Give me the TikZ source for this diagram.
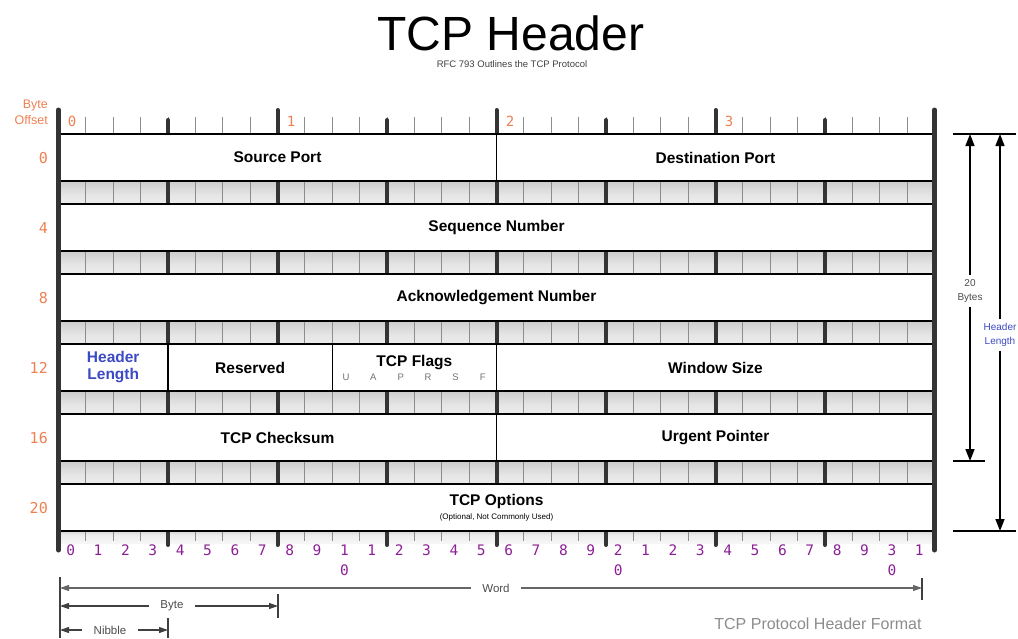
\documentclass[tikz,border=0pt]{standalone}
\usepackage{fontspec}
\setmainfont{Liberation Sans}
\newfontfamily\monofont{DejaVu Sans Mono}
\usetikzlibrary{arrows.meta}

\definecolor{offsetorange}{RGB}{238,128,82}
\definecolor{bitpurple}{RGB}{140,30,150}
\definecolor{lenblue}{RGB}{60,74,196}
\definecolor{barcol}{RGB}{52,52,52}

% gap band between two header rows: shadowed just below a row, light further down
% (a shading fills the path's box on the page: 100bp is the top edge)
\pgfdeclareverticalshading{bandshade}{100bp}{color(0bp)=(black!16); color(12bp)=(black!6); color(45bp)=(black!10); color(75bp)=(black!20); color(100bp)=(black!50)}
% faint shadow under the last row
\pgfdeclareverticalshading{shadowshade}{100bp}{color(0bp)=(white); color(60bp)=(black!8); color(100bp)=(black!30)}

\newcommand{\bitw}{27.375}
\newcommand{\flagbox}[1]{\makebox[27.375pt]{#1}}

\begin{document}
\begin{tikzpicture}[x=1pt,y=-1pt,
  field/.style={draw=black, line width=1.4pt, fill=white, inner sep=0pt, outer sep=0pt,
    minimum height=47pt, anchor=north west, align=center,
    font=\fontsize{15.5}{17}\selectfont\bfseries},
  rowframe/.style={draw=black, line width=2.6pt},
  bittick/.style={draw=black!45, line width=0.9pt},
  nibtick/.style={draw=barcol, line width=4pt},
  sidebar/.style={draw=barcol, line width=5pt, line cap=round},
  offsetlbl/.style={anchor=east, inner sep=0pt, text=offsetorange, font=\monofont\fontsize{15}{15}\selectfont},
  bytelbl/.style={inner sep=0pt, text=offsetorange, font=\monofont\fontsize{14}{14}\selectfont},
  bitlbl/.style={anchor=north, inner sep=0pt, align=center, text=bitpurple, font=\monofont\fontsize{14.5}{20}\selectfont},
  sidenote/.style={align=center, inner sep=4pt, font=\fontsize{10}{14}\selectfont},
  marker/.style={draw=black, line width=1.5pt},
  vdim/.style={draw=black, line width=1.6pt, -{Triangle[length=12pt,width=9pt]}},
  hdim/.style={draw=black!75, line width=1.1pt, -{Triangle[length=9pt,width=6pt]}},
  dimlbl/.style={inner xsep=11pt, inner ysep=2pt, text=black!70, font=\fontsize{11.5}{13}\selectfont},
  dimtick/.style={draw=black!75, line width=1.1pt}
]
\useasboundingbox (0,0) rectangle (1018,638);
\def\L{58.5}\def\R{934.5}

% ---- title ----
\node[anchor=base, inner sep=0pt, font=\fontsize{48}{48}\selectfont] (title) at (511,50) {TCP Header};
\node[anchor=base, inner sep=0pt, text=black!75, font=\fontsize{9.5}{10}\selectfont] (subtitle) at (512,67) {RFC 793 Outlines the TCP Protocol};

% ---- shaded bit bands between the rows ----
\foreach \t in {181,251,321,391,461} {
  \shade[shading=bandshade] (\L,\t) rectangle (\R,\t+23);
  \foreach \i in {1,...,31} \draw[bittick] (\L+\i*\bitw,\t) -- ++(0,23);
  \foreach \i in {4,8,...,28} \draw[nibtick] (\L+\i*\bitw,\t) -- ++(0,23);
}

% ---- top ruler ----
\foreach \i in {1,...,31} \draw[bittick] (\L+\i*\bitw,117) -- (\L+\i*\bitw,134);
\foreach \i in {4,12,20,28} \draw[nibtick, line cap=round] (\L+\i*\bitw,120) -- (\L+\i*\bitw,134);
\foreach \i in {8,16,24} \draw[nibtick, line cap=round] (\L+\i*\bitw,110) -- (\L+\i*\bitw,134);
\foreach \b in {0,1,2,3} \node[bytelbl] (byte\b) at (\L+8*\b*\bitw+0.5*\bitw,121) {\b};

% ---- bottom ruler ----
\shade[shading=shadowshade] (\L,531) rectangle (\R,543);
\foreach \i in {1,...,31} \draw[bittick] (\L+\i*\bitw,531) -- ++(0,10);
\foreach \i in {4,8,...,28} \draw[nibtick, line cap=round] (\L+\i*\bitw,531) -- ++(0,14);
\foreach \txt [count=\c from 0] in {0,1,2,3,4,5,6,7,8,9,{1\\0},1,2,3,4,5,6,7,8,9,{2\\0},1,2,3,4,5,6,7,8,9,{3\\0},1}
  \node[bitlbl] (bit\c) at (\L+\c*\bitw+0.5*\bitw-1.5,545) {\txt};

% ---- header fields ----
\node[field, minimum width=16*\bitw] (srcport) at (\L,134) {Source Port};
\node[field, minimum width=16*\bitw] (dstport) at (\L+16*\bitw,134) {Destination Port};
\node[field, minimum width=32*\bitw] (seqnum) at (\L,204) {Sequence Number};
\node[field, minimum width=32*\bitw] (acknum) at (\L,274) {Acknowledgement Number};
\node[field, minimum width=4*\bitw, text=lenblue] (hdrlen) at (\L,344) {Header\\Length};
\node[field, minimum width=6*\bitw] (reserved) at (\L+4*\bitw,344) {Reserved};
\node[field, minimum width=6*\bitw] (flags) at (\L+10*\bitw,344)
  {TCP Flags\\[-3pt]{\fontsize{9.5}{9.5}\selectfont\mdseries\color{black!55}\flagbox{U}\flagbox{A}\flagbox{P}\flagbox{R}\flagbox{S}\flagbox{F}}};
\node[field, minimum width=16*\bitw] (window) at (\L+16*\bitw,344) {Window Size};
\node[field, minimum width=16*\bitw] (checksum) at (\L,414) {TCP Checksum};
\node[field, minimum width=16*\bitw] (urgent) at (\L+16*\bitw,414) {Urgent Pointer};
\node[field, minimum width=32*\bitw] (options) at (\L,484)
  {TCP Options\\[-3pt]{\fontsize{8}{9}\selectfont\mdseries (Optional, Not Commonly Used)}};

% heavy outline of each 32-bit row
\draw[rowframe] (srcport.north west) rectangle (dstport.south east);
\draw[rowframe] (seqnum.north west) rectangle (seqnum.south east);
\draw[rowframe] (acknum.north west) rectangle (acknum.south east);
\draw[rowframe] (hdrlen.north west) rectangle (window.south east);
\draw[rowframe] (checksum.north west) rectangle (urgent.south east);
\draw[rowframe] (options.north west) rectangle (options.south east);

% side bars of the ruler
\draw[sidebar] (\L,110) -- (\L,550);
\draw[sidebar] (\R,110) -- (\R,550);

% ---- byte offsets ----
\node[anchor=east, inner sep=0pt, align=right, text=offsetorange, font=\fontsize{12.5}{16}\selectfont] (offsethead) at (48,112) {Byte\\Offset};
\node[offsetlbl] (off0) at (48,158) {0};
\node[offsetlbl] (off4) at (48,228) {4};
\node[offsetlbl] (off8) at (48,298) {8};
\node[offsetlbl] (off12) at (48,368) {12};
\node[offsetlbl] (off16) at (48,438) {16};
\node[offsetlbl] (off20) at (48,508) {20};

% ---- lengths on the right ----
\coordinate (markA) at (953,134);  \coordinate (markA2) at (1016,134);
\coordinate (markB) at (953,461);  \coordinate (markB2) at (985,461);
\coordinate (markC) at (953,531);  \coordinate (markC2) at (1016,531);
\draw[marker] (markA) -- (markA2);
\draw[marker] (markB) -- (markB2);
\draw[marker] (markC) -- (markC2);
\node[sidenote, text=black!70] (twenty) at (970,291) {20\\Bytes};
\node[sidenote, text=lenblue] (hlnote) at (1000,335) {Header\\Length};
\draw[vdim] (twenty.north) -- (twenty.north |- markA);
\draw[vdim] (twenty.south) -- (twenty.south |- markB);
\draw[vdim] (hlnote.north) -- (hlnote.north |- markA);
\draw[vdim] (hlnote.south) -- (hlnote.south |- markC);

% ---- word / byte / nibble widths ----
\coordinate (dimtop) at (60,577);
\coordinate (dimbot) at (60,638);
\draw[dimtick] (dimtop) -- (dimbot);
\node[dimlbl] (word) at (496,588) {Word};
\coordinate (wordend) at (922,588);
\draw[hdim, draw=black!60] (word.west) -- (word.west -| dimtop);
\draw[hdim, draw=black!60] (word.east) -- (wordend);
\draw[dimtick] (922,578) -- (922,600);
\node[dimlbl] (bytew) at (172,606) {Byte};
\coordinate (byteend) at (278,606);
\draw[hdim] (bytew.west) -- (bytew.west -| dimtop);
\draw[hdim] (bytew.east) -- (byteend);
\draw[dimtick] (278,594) -- (278,618);
\node[dimlbl] (nibble) at (110,630) {Nibble};
\coordinate (nibbleend) at (168,630);
\draw[hdim] (nibble.west) -- (nibble.west -| dimtop);
\draw[hdim] (nibble.east) -- (nibbleend);
\draw[dimtick] (168,618) -- (168,638);

% ---- caption ----
\node[inner sep=0pt, text=black!45, font=\fontsize{16}{18}\selectfont] (caption) at (818,624) {TCP Protocol Header Format};
\end{tikzpicture}
\end{document}
